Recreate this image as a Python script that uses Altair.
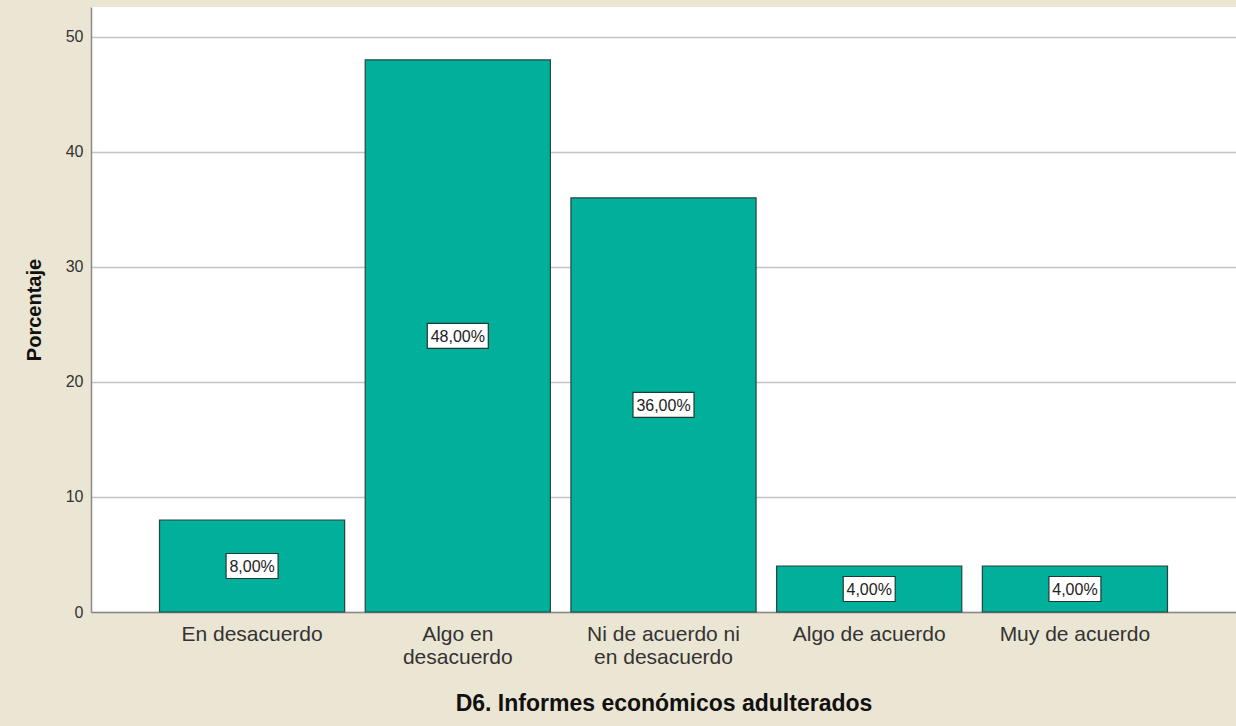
import altair as alt
import pandas as pd

categories = ["En desacuerdo", "Algo en desacuerdo", "Ni de acuerdo ni en desacuerdo",
              "Algo de acuerdo", "Muy de acuerdo"]
label_lines = [["En desacuerdo"], ["Algo en", "desacuerdo"], ["Ni de acuerdo ni", "en desacuerdo"],
               ["Algo de acuerdo"], ["Muy de acuerdo"]]
values = [8.0, 48.0, 36.0, 4.0, 4.0]
value_labels = ["8,00%", "48,00%", "36,00%", "4,00%", "4,00%"]
y_ticks = [0, 10, 20, 30, 40, 50]

df = pd.DataFrame({"cat": categories, "val": values, "lab": value_labels})
df["mid"] = df["val"] / 2


def box_path(s):
    hw = 4.5 * len(s) + 3.5
    hh = 12.5
    return f"M{-hw:.1f},{-hh}H{hw:.1f}V{hh}H{-hw:.1f}Z"


df["box"] = [box_path(s) for s in value_labels]

expr_parts = []
for c, lines in zip(categories, label_lines):
    arr = "[" + ",".join("'" + l + "'" for l in lines) + "]"
    expr_parts.append(f"datum.value == '{c}' ? {arr} : ")
label_expr = "".join(expr_parts) + "datum.label"

FONT = "Liberation Sans"

x = alt.X("cat:N", sort=categories,
          scale=alt.Scale(paddingInner=0.1, paddingOuter=0.333),
          axis=alt.Axis(title="D6. Informes económicos adulterados", labelAngle=0,
                        labelExpr=label_expr, labelFontSize=21, labelColor="#333333",
                        labelFont=FONT, labelPadding=11, labelLineHeight=23,
                        titleFont=FONT, titleFontSize=23, titleFontWeight="bold",
                        titleColor="#111111", titlePadding=25, ticks=False,
                        domainColor="#8a8a8a", domainWidth=1.5, grid=False))
y_scale = alt.Scale(domain=[0, 52.6], nice=False)

bars = alt.Chart(df).mark_bar(color="#00B09A", stroke="#24443f", strokeWidth=1.2).encode(
    x=x,
    y=alt.Y("val:Q", scale=y_scale,
            axis=alt.Axis(title="Porcentaje", values=y_ticks, ticks=False,
                          labelFont=FONT, labelFontSize=16, labelColor="#333333",
                          labelPadding=8, titleFont=FONT, titleFontSize=20,
                          titleFontWeight="bold", titleColor="#111111", titlePadding=21,
                          domainColor="#8a8a8a", domainWidth=1.5,
                          gridColor="#c4c4c4", gridWidth=1.5)),
)

boxes = alt.Chart(df).mark_point(filled=True, fill="white", stroke="#1f3a36",
                                 strokeWidth=1.2, opacity=1, size=4).encode(
    x=alt.X("cat:N", sort=categories),
    y=alt.Y("mid:Q", scale=y_scale),
    shape=alt.Shape("box:N", scale=None),
)

texts = alt.Chart(df).mark_text(font=FONT, fontSize=16, color="#222222", dy=1).encode(
    x=alt.X("cat:N", sort=categories),
    y=alt.Y("mid:Q", scale=y_scale),
    text="lab:N",
)

chart = alt.layer(bars, boxes, texts).properties(
    width=1145, height=605,
    autosize=alt.AutoSizeParams(type="none"),
    padding={"left": 91, "top": 7, "right": 0, "bottom": 114},
    background="#EBE5D3",
).configure_view(fill="white", stroke=None)

chart.save("out.html", embed_options={"renderer": "svg", "actions": False})
